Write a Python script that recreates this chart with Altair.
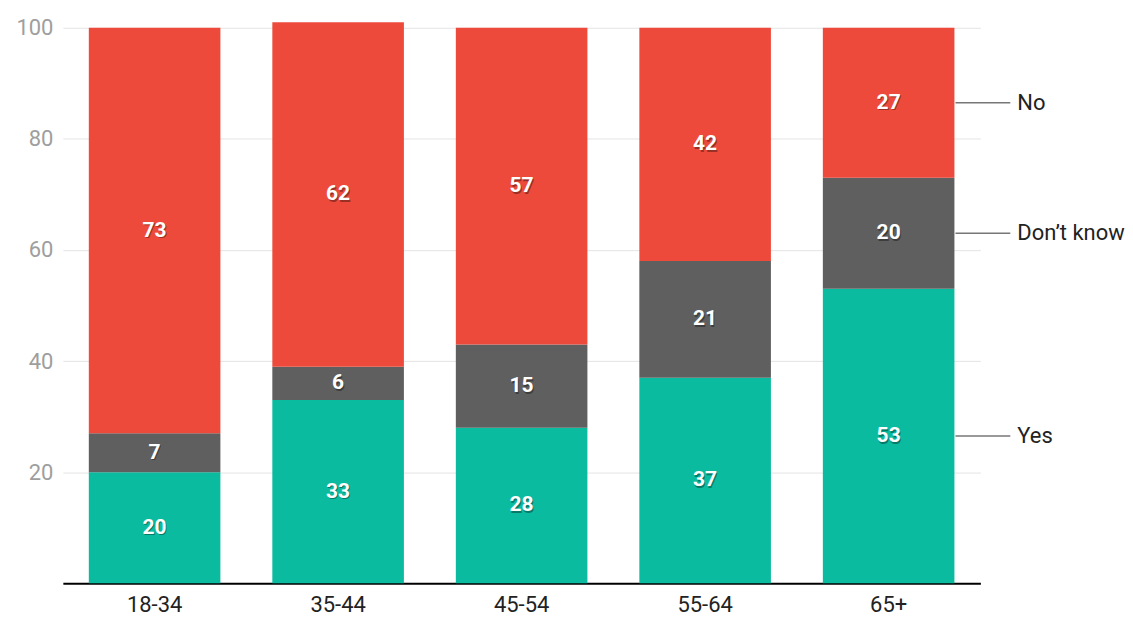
import altair as alt
import pandas as pd

ages = ["18-34", "35-44", "45-54", "55-64", "65+"]
series = ["Yes", "Don\u2019t know", "No"]
yes = [20, 33, 28, 37, 53]
dont_know = [7, 6, 15, 21, 20]
no = [73, 62, 57, 42, 27]
colors = ["#0BBB9F", "#5F5F5F", "#EE4A3C"]
y_ticks = [20, 40, 60, 80, 100]

rows = []
for i, a in enumerate(ages):
    for k, (s, vals) in enumerate(zip(series, [yes, dont_know, no])):
        rows.append({"age": a, "series": s, "value": vals[i], "ord": k})
df = pd.DataFrame(rows)

FONT = "Roboto"

base = (
    alt.Chart(df)
    .transform_stack(stack="value", groupby=["age"], as_=["y0", "y1"],
                     sort=[alt.SortField("ord", order="ascending")])
    .transform_calculate(mid="(datum.y0 + datum.y1) / 2")
)

xenc = alt.X("age:N", sort=ages, title=None,
             scale=alt.Scale(paddingInner=0.283, paddingOuter=0.1415),
             axis=alt.Axis(labelAngle=0, ticks=False, domainColor="#000000",
                           domainWidth=2, labelColor="#222222", labelFontSize=22,
                           labelPadding=11, labelFont=FONT, grid=False))
yscale = alt.Scale(domain=[0, 100], nice=False)

bars = base.mark_bar().encode(
    x=xenc,
    y=alt.Y("y0:Q", scale=yscale, title=None,
            axis=alt.Axis(values=y_ticks, domain=False, ticks=False,
                          gridColor="#e4e4e4", labelColor="#9e9e9e",
                          labelFontSize=22, labelPadding=10, labelFont=FONT)),
    y2="y1:Q",
    color=alt.Color("series:N", scale=alt.Scale(domain=series, range=colors), legend=None),
)

shadow = base.mark_text(font=FONT, fontSize=21, fontWeight="bold", color="#000000",
                        opacity=0.35, dx=1, dy=1.5).encode(
    x=alt.X("age:N", sort=ages), y=alt.Y("mid:Q", scale=yscale), text="value:Q")

labels = base.mark_text(font=FONT, fontSize=21, fontWeight="bold", color="#ffffff").encode(
    x=alt.X("age:N", sort=ages), y=alt.Y("mid:Q", scale=yscale), text="value:Q")

last = base.transform_filter(alt.datum.age == "65+")
leg_rules = last.mark_rule(color="#777777", strokeWidth=1.5).encode(
    y=alt.Y("mid:Q", scale=yscale), x=alt.value(895), x2=alt.value(950))
leg_text = last.mark_text(font=FONT, fontSize=22, color="#222222", align="left",
                          baseline="middle").encode(
    y=alt.Y("mid:Q", scale=yscale), x=alt.value(957), text="series:N")

chart = (
    alt.layer(bars, shadow, labels, leg_rules, leg_text)
    .properties(width=920, height=557,
                padding={"left": 7, "right": 0, "top": 8, "bottom": 5})
    .configure_view(stroke=None)
)

chart.save("out.html", embed_options={"renderer": "svg", "actions": False})
